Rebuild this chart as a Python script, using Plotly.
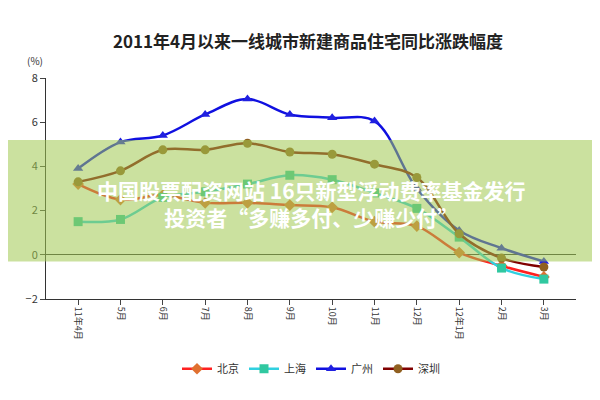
import plotly.graph_objects as go

months = ["11年4月","5月","6月","7月","8月","9月","10月","11月","12月","12年1月","2月","3月"]
beijing = [3.2, 2.5, 2.7, 2.35, 2.35, 2.25, 2.15, 1.5, 1.3, 0.1, -0.5, -1.0]
shanghai = [1.5, 1.6, 2.6, 2.85, 3.2, 3.6, 3.4, 2.8, 2.1, 0.8, -0.6, -1.1]
guangzhou = [3.9, 5.1, 5.4, 6.35, 7.05, 6.35, 6.2, 6.05, 3.0, 1.1, 0.3, -0.3]
shenzhen = [3.3, 3.8, 4.75, 4.75, 5.05, 4.65, 4.55, 4.1, 3.5, 0.95, -0.15, -0.55]

series = [("北京", beijing, "#ff2020", "#e07030", "diamond"),
          ("上海", shanghai, "#30d0e0", "#30c8a0", "square"),
          ("广州", guangzhou, "#1010e0", "#2020e0", "triangle-up"),
          ("深圳", shenzhen, "#800000", "#906020", "circle")]
fig = go.Figure()
for name, vals, lc, mc, sym in series:
    fig.add_trace(go.Scatter(x=months, y=vals, name=name, mode="lines+markers",
        line=dict(color=lc, width=2.5, shape="spline"),
        marker=dict(color=mc, size=9, symbol=sym)))

fig.update_layout(
    width=600, height=400, paper_bgcolor="white", plot_bgcolor="white",
    margin=dict(l=38, r=32, t=70, b=109, autoexpand=False),
    title=dict(text="<b>2011年4月以来一线城市新建商品住宅同比涨跌幅度</b>", x=0.5, y=0.93,
               font=dict(size=17, color="#222", family="Noto Sans CJK SC")),
    font=dict(family="Noto Sans CJK SC", size=11, color="#333"),
    legend=dict(orientation="h", x=0.5, xanchor="center", y=-0.25, font=dict(size=11)),
    xaxis=dict(tickangle=90, showline=True, linecolor="#333", ticks="outside",
               tickfont=dict(size=9), showgrid=False),
    yaxis=dict(range=[-2, 8], dtick=2, showline=True, linecolor="#333", ticks="outside",
               showgrid=False, zeroline=True, zerolinecolor="#333", zerolinewidth=1),
    shapes=[dict(type="rect", xref="paper", yref="paper", x0=-0.1, x1=1.1, y0=0.17, y1=0.72,
                 fillcolor="rgba(160,200,80,0.55)", line=dict(width=0), layer="above")],
    annotations=[
        dict(text="(%)", xref="paper", yref="paper", x=-0.04, y=1.12, showarrow=False, font=dict(size=10)),
        dict(text="<b>中国股票配资网站 16只新型浮动费率基金发行<br>投资者“多赚多付、少赚少付”</b>", xref="paper", yref="paper",
             x=0.5, y=0.43, showarrow=False, font=dict(size=21, color="white", family="Noto Sans CJK SC"))]
)
fig.write_html("out.html")
